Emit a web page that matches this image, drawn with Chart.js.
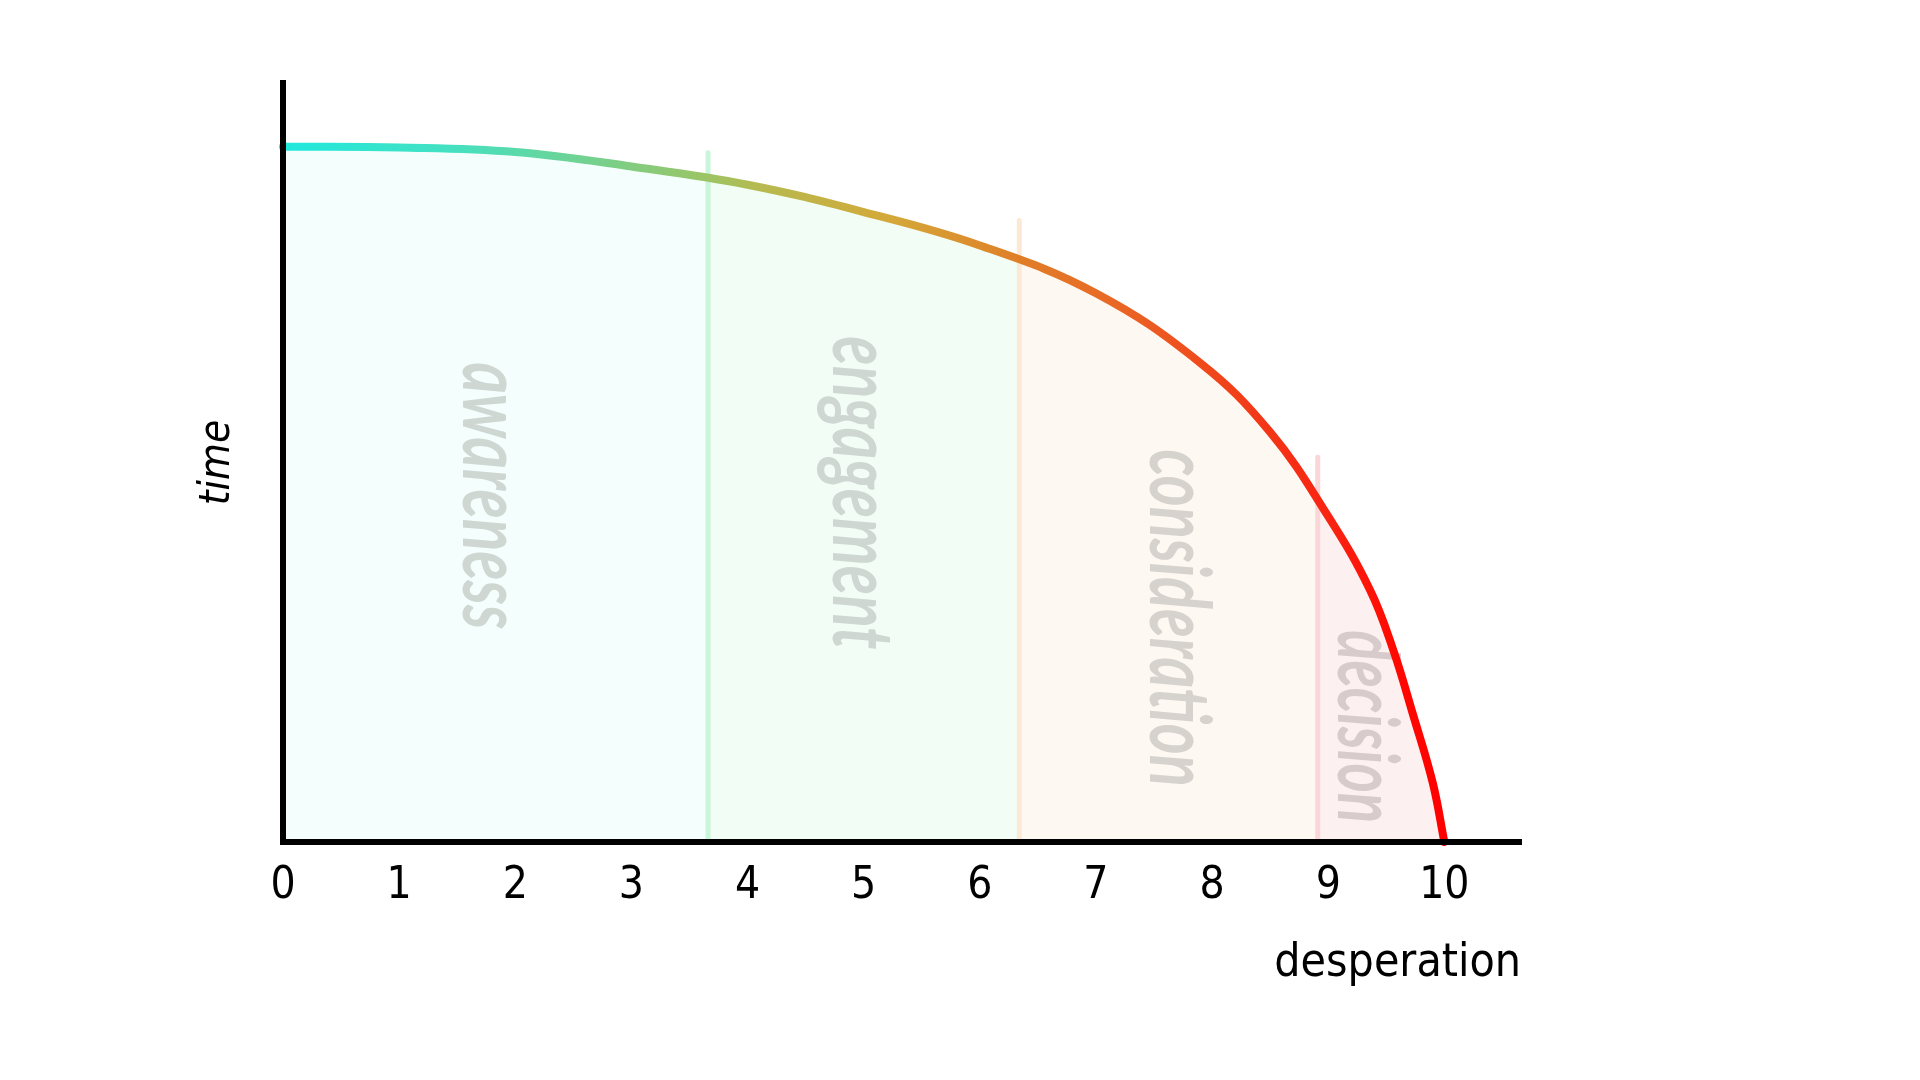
<!DOCTYPE html>
<html>
<head>
<meta charset="utf-8">
<title>desperation vs time</title>
<script src="https://cdn.jsdelivr.net/npm/chart.js@4.4.1/dist/chart.umd.min.js"></script>
<style>
  html, body { margin: 0; padding: 0; background: #fff; }
  #wrap { width: 1920px; height: 1080px; }
</style>
</head>
<body>
<div id="wrap"><canvas id="funnelChart"></canvas></div>
<script>
// curve: x = desperation, y = time (0..100)
const desperation = [0, 1, 2, 3, 4, 5, 6, 7, 7.9, 8.5, 9, 9.36, 9.56, 9.73, 9.9, 10];
const time = [91.6, 91.5, 90.9, 89.0, 86.6, 83.0, 78.6, 72.3, 63.1, 54.0, 42.9, 33.2, 25.3, 16.8, 7.8, 0];

const xTickLabels = ["0", "1", "2", "3", "4", "5", "6", "7", "8", "9", "10"];

// stages and where they change
const stageNames = ["awareness", "engagement", "consideration", "decision"];
const stageBounds = [0, 3.66, 6.34, 8.91, 10];
const dividerTops = [90.8, 81.9, 50.7];

// styling
const stageFill = ["#f4fefc", "#f2fdf6", "#fef8f2", "#fdf0f1"];
const dividerColor = ["#c9f5d9", "#fbe9d6", "#fad6d8"];
const stageText = [
  { x: 1.551, y: 45.6, len: 267, color: "#cfd7d3" },
  { x: 4.737, y: 46.0, len: 313, color: "#cfd7d3" },
  { x: 7.468, y: 29.5, len: 337, color: "#d6d2cd" },
  { x: 9.087, y: 15.2, len: 193, color: "#d8cbcb" }
];
const lineStops = [
  [0, "#20e8dc"], [0.15, "#46e0c0"], [0.365, "#9cc464"], [0.41, "#b6ba50"],
  [0.525, "#d4a838"], [0.635, "#e07e28"], [0.71, "#e86a26"], [0.79, "#f04a1c"],
  [0.84, "#f23818"], [0.91, "#fa2010"], [0.96, "#ff0800"], [1, "#ff0000"]
];
const handFont = "'Liberation Sans Narrow', 'DejaVu Sans Condensed', 'Noto Sans', sans-serif";

const curvePoints = desperation.map((d, i) => ({ x: d, y: time[i] }));

const dividerSets = dividerTops.map((top, i) => ({
  data: [{ x: stageBounds[i + 1], y: 0 }, { x: stageBounds[i + 1], y: top }],
  borderColor: dividerColor[i],
  borderWidth: 5,
  borderCapStyle: "round",
  pointRadius: 0,
  fill: false,
  order: 2
}));

// horizontal gradient between x=0 and x=10
function xGradient(chart, stops) {
  const xs = chart.scales.x;
  const g = chart.ctx.createLinearGradient(xs.getPixelForValue(0), 0, xs.getPixelForValue(10), 0);
  stops.forEach(([o, col]) => g.addColorStop(o, col));
  return g;
}

// hard-edged stage colours for the area under the curve
function stageStops() {
  const stops = [];
  stageFill.forEach((col, i) => {
    stops.push([stageBounds[i] / 10, col]);
    stops.push([stageBounds[i + 1] / 10, col]);
  });
  return stops;
}

// rotated stage names drawn under the curve
const stageLabels = {
  id: "stageLabels",
  beforeDatasetsDraw(chart) {
    const { ctx, scales } = chart;
    stageNames.forEach((name, i) => {
      const s = stageText[i];
      const px = scales.x.getPixelForValue(s.x);
      const py = scales.y.getPixelForValue(s.y);
      ctx.save();
      ctx.font = "italic bold 84px Lato";
      const w = ctx.measureText(name).width;
      ctx.translate(px, py);
      ctx.rotate(Math.PI / 2);
      ctx.scale(s.len / w, 1);
      ctx.fillStyle = s.color;
      ctx.textAlign = "center";
      ctx.textBaseline = "alphabetic";
      ctx.fillText(name, 0, 0);
      ctx.restore();
    });
  }
};

const ctx = document.getElementById("funnelChart").getContext("2d");
new Chart(ctx, {
  type: "line",
  data: {
    datasets: [
      {
        data: curvePoints,
        borderWidth: 8,
        borderCapStyle: "round",
        borderColor: (c) => (c.chart.chartArea ? xGradient(c.chart, lineStops) : lineStops[0][1]),
        backgroundColor: (c) => (c.chart.chartArea ? xGradient(c.chart, stageStops()) : stageFill[0]),
        fill: "origin",
        tension: 0.4,
        pointRadius: 0,
        clip: false,
        order: 1
      },
      ...dividerSets
    ]
  },
  options: {
    responsive: true,
    maintainAspectRatio: false,
    animation: false,
    layout: { padding: { left: 0, top: 83, right: 399, bottom: 0 } },
    plugins: {
      legend: { display: false },
      tooltip: { enabled: false },
      filler: { drawTime: "beforeDatasetsDraw" }
    },
    scales: {
      x: {
        type: "linear",
        min: 0,
        max: 10.66,
        afterBuildTicks: (scale) => {
          scale.ticks = xTickLabels.map((l) => ({ value: Number(l) }));
        },
        afterFit: (scale) => { scale.height = 238; },
        grid: { display: false, drawTicks: false },
        border: { display: true, color: "#000", width: 6, z: 1 },
        ticks: {
          color: "#000",
          padding: 18,
          font: { family: handFont, size: 44 },
          callback: (v) => xTickLabels[v]
        },
        title: {
          display: true,
          text: "desperation",
          align: "end",
          color: "#000",
          font: { family: handFont, size: 46 },
          padding: { top: 0, bottom: 88 }
        }
      },
      y: {
        min: 0,
        max: 100,
        afterFit: (scale) => { scale.width = 283; },
        grid: { display: false, drawTicks: false },
        border: { display: true, color: "#000", width: 6, z: 1 },
        ticks: { display: false },
        title: {
          display: true,
          text: "time",
          color: "#000",
          font: { family: handFont, size: 42, style: "italic" },
          padding: { top: 193, bottom: 0 }
        }
      }
    }
  },
  plugins: [stageLabels]
});
</script>
</body>
</html>
